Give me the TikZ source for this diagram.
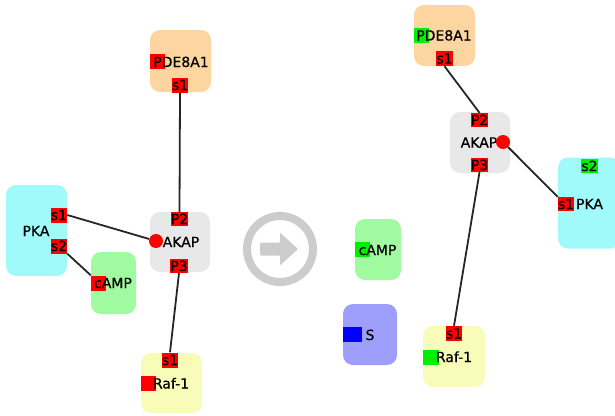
\documentclass[tikz,border=0pt]{standalone}
\usepackage{fontspec}
\setmainfont[FakeBold=0.5]{DejaVu Sans}
\definecolor{sred}{HTML}{FF0000}
\definecolor{sgreen}{HTML}{00EE00}
\definecolor{sblue}{HTML}{0000FF}
\definecolor{cpka}{HTML}{A0FAFA}
\definecolor{ccamp}{HTML}{A0FAA0}
\definecolor{cakap}{HTML}{E8E8E8}
\definecolor{cpde}{HTML}{FDD5A0}
\definecolor{craf}{HTML}{F8FCB8}
\definecolor{cs}{HTML}{9E9EFC}
\definecolor{cicon}{HTML}{CCCCCC}
\begin{document}
\begin{tikzpicture}[x=1pt,y=-1pt,
  font=\fontsize{14}{16}\selectfont,
  box/.style={rounded corners=10pt, inner sep=0pt},
  sitebox/.style={fill=#1, inner sep=0pt, minimum width=15pt, minimum height=15pt, text height=10pt, text depth=0pt},
  sitebox/.default=sred,
  lbl/.style={inner sep=0pt, text height=10pt, text depth=0pt},
  edge/.style={draw=black!85, line width=1.8pt},
  dot/.style={circle, fill=sred, inner sep=0pt, minimum size=14pt}]
\useasboundingbox (0,0) rectangle (615,415);
\clip (0,0) rectangle (615,415);

% ---------- left side ----------
\node[box, fill=cpka, minimum width=61pt, minimum height=91pt] (pkaL) at (36.5,230.5) {};
\node[lbl] (pkaLlbl) at (36,231) {PKA};
\node[sitebox, minimum width=16pt] (pkaLs1) at (59,215) {s1};
\node[sitebox, minimum width=16pt] (pkaLs2) at (59,246) {s2};

\node[box, fill=ccamp, minimum width=45pt, minimum height=62pt] (campL) at (113.5,283) {};
\node[sitebox] (campLsite) at (98.5,283) {};
\node[lbl] (campLlbl) at (113,283) {cAMP};

\node[box, fill=cakap, minimum width=60pt, minimum height=60pt] (akapL) at (180,242) {};
\node[lbl] (akapLlbl) at (181,242) {AKAP};
\node[sitebox, minimum width=17pt, minimum height=14pt] (akapLp2) at (179.5,219) {P2};
\node[sitebox, minimum width=17pt, minimum height=14pt] (akapLp3) at (179,266) {P3};
\node[dot] (akapLdot) at (156,241) {};

\node[box, fill=cpde, minimum width=61pt, minimum height=62pt] (pdeL) at (180.5,61) {};
\node[sitebox] (pdeLsite) at (157.5,61.5) {};
\node[lbl] (pdeLlbl) at (181,62) {PDE8A1};
\node[sitebox, minimum width=16pt] (pdeLs1) at (180,85) {s1};

\node[box, fill=craf, minimum width=61pt, minimum height=60pt] (rafL) at (171.5,383) {};
\node[sitebox] (rafLsite) at (148.5,383.5) {};
\node[lbl] (rafLlbl) at (171,383.5) {Raf-1};
\node[sitebox, minimum width=16pt] (rafLs1) at (170,360) {s1};

\draw[edge] (pkaLs1.east) -- (akapLdot);
\draw[edge] (pkaLs2.south east) -- (campLsite.north west);
\draw[edge] (pdeLs1.south) -- (akapLp2.north);
\draw[edge] (akapLp3.south) -- (rafLs1.north);

% ---------- transition icon ----------
\node[circle, draw=cicon, line width=8pt, minimum size=66pt, inner sep=0pt] (icon) at (280,249) {};
\fill[cicon, rounded corners=1pt] (icon.center) ++(-20,-6.5) -- ++(20,0) -- ++(0,-10) -- ++(18,16.5) -- ++(-18,16.5) -- ++(0,-10) -- ++(-20,0) -- cycle;

% ---------- right side ----------
\node[box, fill=cpde, minimum width=61pt, minimum height=61pt] (pdeR) at (444.5,35.5) {};
\node[sitebox=sgreen] (pdeRsite) at (421.5,35.5) {};
\node[lbl] (pdeRlbl) at (444,35.5) {PDE8A1};
\node[sitebox, minimum width=16pt] (pdeRs1) at (444.5,58.5) {s1};

\node[box, fill=cakap, minimum width=60pt, minimum height=61pt] (akapR) at (480,142.5) {};
\node[lbl] (akapRlbl) at (479,142.5) {AKAP};
\node[sitebox, minimum width=16pt, minimum height=14pt] (akapRp2) at (479.5,120) {P2};
\node[sitebox, minimum width=16pt, minimum height=14pt] (akapRp3) at (479.5,165) {P3};
\node[dot] (akapRdot) at (503,142) {};

\node[box, fill=cpka, minimum width=62pt, minimum height=91pt] (pkaR) at (589,203) {};
\node[sitebox=sgreen, minimum width=16pt, minimum height=14pt] (pkaRs2) at (589.5,166) {s2};
\node[sitebox, minimum width=16pt, minimum height=14pt] (pkaRs1) at (566,204) {s1};
\node[lbl] (pkaRlbl) at (589.5,204) {PKA};

\node[box, fill=ccamp, minimum width=46pt, minimum height=61pt] (campR) at (378,249.5) {};
\node[sitebox=sgreen] (campRsite) at (362.5,249.5) {};
\node[lbl] (campRlbl) at (377.5,250) {cAMP};

\node[box, fill=cs, minimum width=54pt, minimum height=61pt] (sR) at (370,334.5) {};
\node[sitebox=sblue, minimum width=19pt] (sRsite) at (352.5,334.5) {};
\node[lbl] (sRlbl) at (370,335) {S};

\node[box, fill=craf, minimum width=62pt, minimum height=61pt] (rafR) at (454,356.5) {};
\node[sitebox=sgreen, minimum width=16pt] (rafRsite) at (431,357) {};
\node[lbl] (rafRlbl) at (454,357) {Raf-1};
\node[sitebox, minimum width=16pt] (rafRs1) at (454,333.5) {s1};

\draw[edge] (pdeRs1.south) -- (akapRp2.north);
\draw[edge] (akapRdot) -- (pkaRs1.north west);
\draw[edge] (akapRp3.south) -- (rafRs1.north);
\end{tikzpicture}
\end{document}
